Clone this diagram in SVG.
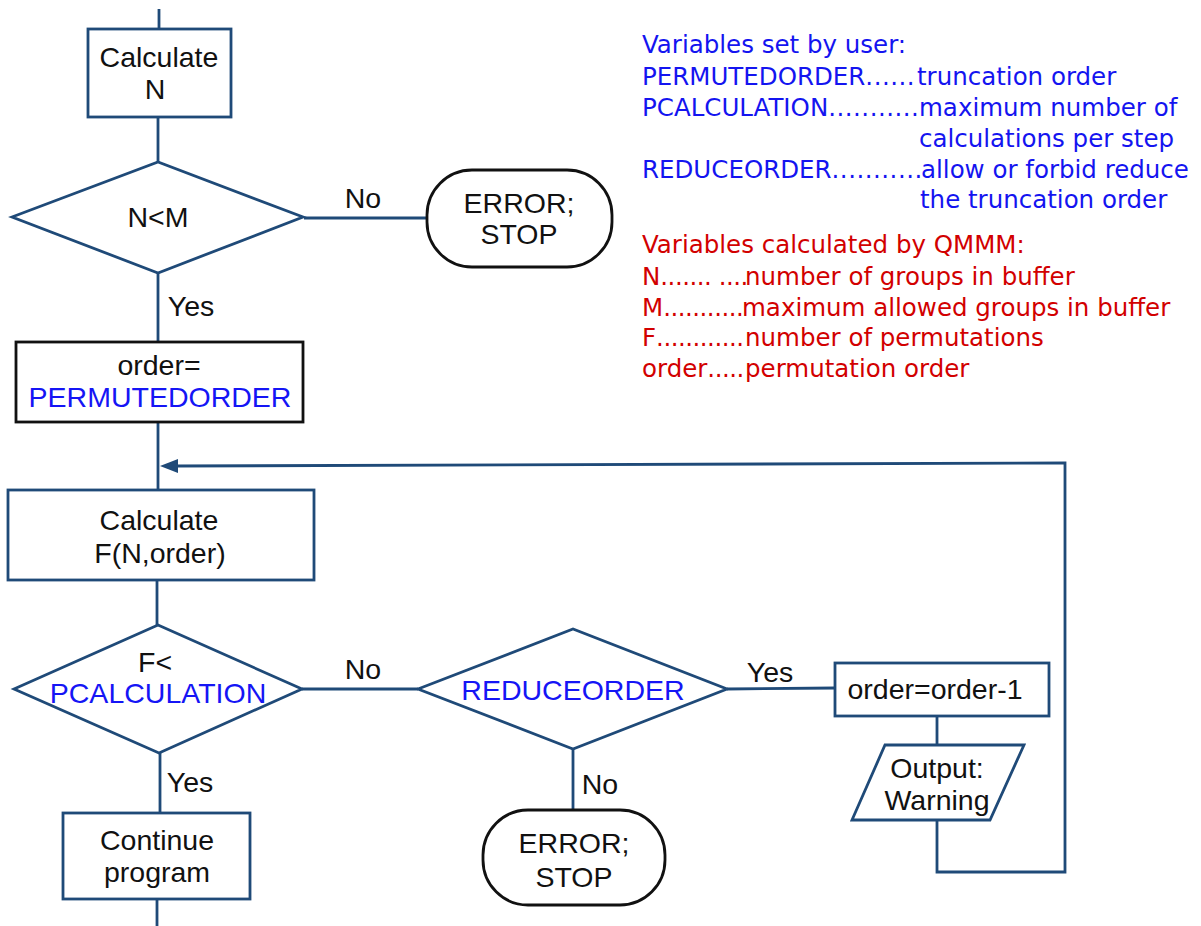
<svg xmlns="http://www.w3.org/2000/svg" width="1201" height="926" viewBox="0 0 1201 926">
<style>
.s{fill:#fff;stroke:#1f4a78;stroke-width:2.8}
.k{fill:#fff;stroke:#111;stroke-width:2.8}
.c{fill:none;stroke:#1f4a78;stroke-width:2.8}
.t{font-family:"Liberation Sans",Arial,sans-serif;font-size:28.5px;fill:#111;text-anchor:middle}
.b{fill:#1515f5}
.lg{font-family:"DejaVu Sans",Verdana,sans-serif;font-size:24.5px}
.lb{fill:#1414f0}
.lr{fill:#d20000}
.d{letter-spacing:-0.5px}
.db{letter-spacing:0.5px}
</style>
<g id="connectors">
<line class="c" x1="159" y1="9" x2="159" y2="29"/>
<line class="c" x1="158" y1="117" x2="158" y2="162"/>
<line class="c" x1="304" y1="218" x2="427" y2="218"/>
<line class="c" x1="158" y1="273" x2="158" y2="342"/>
<line class="c" x1="158" y1="422" x2="158" y2="490"/>
<line class="c" x1="157" y1="580" x2="157" y2="625"/>
<line class="c" x1="302" y1="689" x2="418" y2="689"/>
<line class="c" x1="160" y1="753" x2="160" y2="813"/>
<line class="c" x1="157" y1="899" x2="157" y2="926"/>
<line class="c" x1="727" y1="689" x2="835" y2="688"/>
<line class="c" x1="573" y1="749" x2="573" y2="810"/>
<line class="c" x1="937" y1="716" x2="937" y2="745"/>
<path class="c" d="M937,820 V872 H1065 V463 L176,466"/>
<path d="M160,466 L178,459 L178,473 z" fill="#1f4a78"/>
<text class="t" x="363" y="208">No</text>
<text class="t" x="191" y="316">Yes</text>
<text class="t" x="363" y="679">No</text>
<text class="t" x="190" y="792">Yes</text>
<text class="t" x="770" y="682">Yes</text>
<text class="t" x="600" y="794">No</text>
</g>
<g id="calcN">
<rect class="s" x="88" y="29" width="143" height="88"/>
<text class="t" x="159" y="67">Calculate</text>
<text class="t" x="155" y="99">N</text>
</g>
<g id="dNM">
<polygon class="s" points="12,217 158,162 303,217 158,273"/>
<text class="t" x="158" y="227">N&lt;M</text>
</g>
<g id="err1">
<rect class="k" x="427" y="170" width="185" height="97" rx="45" ry="45"/>
<text class="t" x="519" y="213">ERROR;</text>
<text class="t" x="519" y="244">STOP</text>
</g>
<g id="orderSet">
<rect class="k" x="16" y="342" width="287" height="80"/>
<text class="t" x="159" y="375">order=</text>
<text class="t b" x="160" y="407">PERMUTEDORDER</text>
</g>
<g id="calcF">
<rect class="s" x="8" y="490" width="306" height="90"/>
<text class="t" x="159" y="530">Calculate</text>
<text class="t" x="160" y="563">F(N,order)</text>
</g>
<g id="dF">
<polygon class="s" points="14,689 158,625 302,689 159,753"/>
<text class="t" x="155" y="672">F&lt;</text>
<text class="t b" x="158" y="703">PCALCULATION</text>
</g>
<g id="cont">
<rect class="s" x="63" y="813" width="187" height="86"/>
<text class="t" x="157" y="850">Continue</text>
<text class="t" x="157" y="882">program</text>
</g>
<g id="dReduce">
<polygon class="s" points="418,689 573,629 727,689 573,749"/>
<text class="t b" x="573" y="700">REDUCEORDER</text>
</g>
<g id="err2">
<rect class="k" x="483" y="810" width="182" height="95" rx="45" ry="45"/>
<text class="t" x="574" y="853">ERROR;</text>
<text class="t" x="574" y="887">STOP</text>
</g>
<g id="orderDec">
<rect class="s" x="835" y="663" width="214" height="53"/>
<text class="t" x="935" y="699">order=order-1</text>
</g>
<g id="output">
<polygon class="s" points="885,745 1024,745 990,820 852,820"/>
<text class="t" x="937" y="778">Output:</text>
<text class="t" x="937" y="810">Warning</text>
</g>
<g id="legend" class="lg">
<text class="lb" x="642" y="53">Variables set by user:</text>
<text class="lb" x="642" y="85">PERMUTEDORDER<tspan class="db">......</tspan><tspan x="917">truncation order</tspan></text>
<text class="lb" x="642" y="116">PCALCULATION<tspan class="db">...........</tspan><tspan x="919">maximum number of</tspan></text>
<text class="lb" x="919" y="147">calculations per step</text>
<text class="lb" x="642" y="178">REDUCEORDER<tspan class="db">...........</tspan><tspan x="921">allow or forbid reduce</tspan></text>
<text class="lb" x="920" y="208">the truncation order</text>
<text class="lr" x="642" y="253">Variables calculated by QMMM:</text>
<text class="lr" x="642" y="285">N<tspan class="d">....... ....</tspan><tspan x="745">number of groups in buffer</tspan></text>
<text class="lr" x="642" y="316">M<tspan class="d">...........</tspan><tspan x="742">maximum allowed groups in buffer</tspan></text>
<text class="lr" x="642" y="346">F<tspan class="d">............</tspan><tspan x="745">number of permutations</tspan></text>
<text class="lr" x="642" y="377">order<tspan class="d">.....</tspan><tspan x="745">permutation order</tspan></text>
</g>
</svg>
